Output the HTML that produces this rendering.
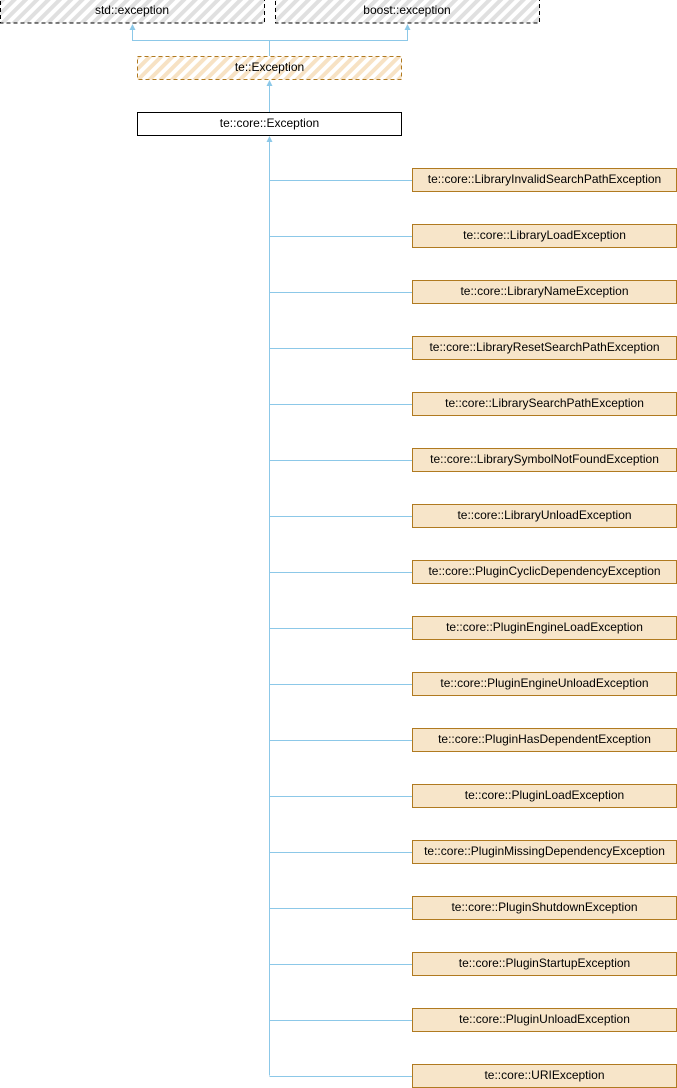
<!DOCTYPE html>
<html><head><style>body{margin:0;background:#fff}svg{display:block}text{font-family:"Liberation Sans",sans-serif;font-size:12px;text-anchor:middle}</style></head>
<body>
<svg width="677" height="1088" xmlns="http://www.w3.org/2000/svg">
<defs>
<pattern id="g" width="8" height="8" patternUnits="userSpaceOnUse" patternTransform="rotate(45)"><rect width="8" height="8" fill="#fff"/><rect width="4" height="8" fill="#e0e0e0"/></pattern>
<pattern id="o" width="8" height="8" patternUnits="userSpaceOnUse" patternTransform="rotate(45)"><rect width="8" height="8" fill="#fff"/><rect width="4" height="8" fill="#f7e2c4"/></pattern>
</defs>
<rect x="0.5" y="-5" width="264" height="28" fill="url(#g)" stroke="#000" stroke-dasharray="4,3"/>
<text x="132" y="14">std::exception</text>
<rect x="275.5" y="-5" width="264" height="28" fill="url(#g)" stroke="#000" stroke-dasharray="4,3"/>
<text x="407" y="14">boost::exception</text>
<g stroke="#8cc8e8" fill="none">
<path d="M269.5 56V40.5H132.5V27M269.5 40.5H407.5V27M269.5 112V83M269.5 139V1075.5"/>
</g>
<g fill="#8cc8e8"><path d="M132.5 24l-3 6h6z"/><path d="M407.5 24l-3 6h6z"/><path d="M269.5 80l-3 6h6z"/><path d="M269.5 136l-3 6h6z"/></g>
<rect x="137.5" y="56.5" width="264" height="23" fill="url(#o)" stroke="#b07a20" stroke-dasharray="4,3"/>
<text x="269.5" y="71">te::Exception</text>
<rect x="137.5" y="112.5" width="264" height="23" fill="#fff" stroke="#000"/>
<text x="269.5" y="127">te::core::Exception</text>
<g id="c"></g>
</svg>
<script>
var n=["LibraryInvalidSearchPathException","LibraryLoadException","LibraryNameException","LibraryResetSearchPathException","LibrarySearchPathException","LibrarySymbolNotFoundException","LibraryUnloadException","PluginCyclicDependencyException","PluginEngineLoadException","PluginEngineUnloadException","PluginHasDependentException","PluginLoadException","PluginMissingDependencyException","PluginShutdownException","PluginStartupException","PluginUnloadException","URIException"];
var s="";n.forEach(function(t,i){var y=168+56*i;s+='<path d="M269.5 '+(y+12.5)+'H412" stroke="#8cc8e8"/><rect x="412.5" y="'+(y+.5)+'" width="264" height="23" fill="#f7e5c9" stroke="#b07a20"/><text x="544.5" y="'+(y+15)+'">te::core::'+t+'</text>';});
document.getElementById("c").innerHTML=s;
</script>
</body></html>
